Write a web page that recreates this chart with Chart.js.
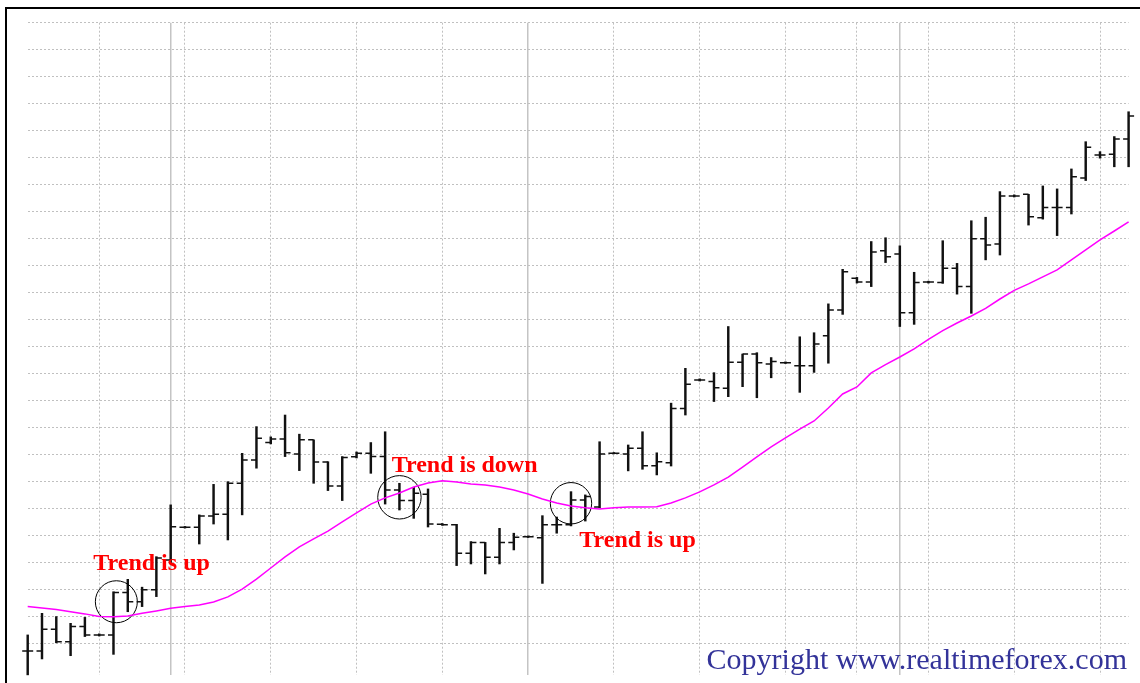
<!DOCTYPE html>
<html>
<head>
<meta charset="utf-8">
<script src="https://cdn.jsdelivr.net/npm/chart.js@4/dist/chart.umd.min.js"></script>
<style>
  html, body { margin: 0; padding: 0; background: #fff; overflow: hidden; }
  #wrap { position: relative; width: 1140px; height: 683px; }
  #frame {
    position: absolute; left: 5px; top: 7px; width: 1135px; height: 676px;
    box-sizing: border-box; border-left: 2px solid #000; border-top: 2px solid #000;
    pointer-events: none;
  }
</style>
</head>
<body>
<div id="wrap">
  <canvas id="myChart"></canvas>
  <div id="frame"></div>
</div>
<script>
// price in pips, one bar per index
var openPrices = [-2.9, -2.9, 5.2, 0.6, 6.2, 3.1, 3.1, 18.8, 15.4, 19.8, 30.9, 43.0, 43.0, 47.2, 47.8, 59.3, 67.9, 74.4, 75.7, 70.2,
  75.4, 67.2, 58.3, 69.1, 70.4, 69.2, 56.8, 52.9, 55.2, 44.1, 43.9, 33.4, 37.4, 31.9, 37.4, 39.5, 39.1, 43.9, 43.9, 53.1,
  50.5, 70.4, 70.2, 72.3, 65.8, 66.9, 87.0, 97.6, 97.0, 94.5, 104.2, 107.2, 103.5, 104.0, 102.9, 102.9, 114.0, 123.5, 135.3, 133.9,
  145.5, 144.3, 122.5, 133.9, 133.7, 139.0, 132.2, 149.9, 148.0, 165.8, 166.4, 157.7, 161.5, 161.5, 172.4, 181.0, 181.2, 186.9];
var highPrices = [3.1, 11.1, 9.9, 7.4, 9.6, 3.5, 19.1, 23.7, 20.8, 32.1, 51.3, 43.3, 47.6, 58.9, 59.9, 70.4, 80.3, 76.5, 84.6, 77.5,
  75.4, 67.3, 69.2, 70.9, 74.4, 78.4, 59.3, 57.8, 57.2, 44.4, 44.1, 37.7, 37.4, 42.6, 40.8, 39.8, 47.3, 46.8, 56.2, 55.0,
  74.7, 70.7, 73.5, 78.4, 70.6, 89.0, 101.9, 98.0, 100.3, 117.4, 107.2, 107.7, 105.9, 104.3, 113.6, 115.1, 125.8, 138.6, 135.6, 148.9,
  150.3, 147.3, 137.5, 134.2, 149.2, 140.8, 156.6, 157.9, 167.4, 166.2, 166.4, 169.5, 168.4, 175.8, 185.9, 182.2, 187.8, 197.0];
var lowPrices = [-11.7, -5.8, 0.0, -4.6, 2.5, 2.7, -4.1, 11.7, 13.6, 17.3, 29.7, 42.7, 36.8, 44.2, 38.3, 47.6, 64.9, 73.9, 69.2, 64.0,
  59.3, 56.6, 52.9, 68.7, 63.0, 51.6, 49.4, 46.3, 43.1, 43.7, 28.8, 29.4, 25.7, 29.4, 34.6, 39.2, 22.2, 40.8, 43.5, 45.3,
  50.2, 70.2, 63.9, 64.5, 62.4, 65.7, 84.6, 97.2, 89.6, 91.4, 95.1, 91.0, 98.4, 103.7, 93.0, 100.4, 103.8, 121.9, 133.5, 132.2,
  141.1, 117.4, 118.2, 133.5, 133.4, 129.4, 122.3, 142.1, 143.9, 165.4, 155.0, 157.2, 151.1, 159.1, 171.5, 179.8, 176.6, 176.6];
var closePrices = [-2.9, 5.2, 0.6, 6.2, 3.1, 3.1, 18.8, 15.4, 19.8, 31.6, 43.2, 43.0, 47.2, 47.8, 59.3, 67.9, 76.0, 75.7, 70.6, 75.4,
  67.2, 58.3, 68.9, 70.4, 69.2, 56.8, 52.9, 55.6, 44.2, 43.9, 33.4, 37.4, 31.9, 37.4, 39.3, 39.5, 43.9, 43.9, 53.1, 54.4,
  70.2, 70.4, 72.3, 65.8, 67.3, 87.0, 96.0, 97.6, 94.7, 104.2, 107.2, 104.0, 104.4, 104.0, 102.9, 110.9, 123.5, 137.7, 133.9, 145.0,
  143.3, 122.5, 133.7, 133.9, 139.0, 132.2, 149.9, 147.6, 165.8, 165.8, 158.1, 161.5, 161.5, 172.9, 183.8, 181.0, 186.9, 195.4];
// moving average
var maValues = [13.6, 13.1, 12.5, 11.7, 10.9, 9.9, 9.8, 10.1, 11.1, 12.0, 13.0, 13.6, 14.2, 15.3, 17.2, 20.1, 23.8, 27.9, 32.0, 35.7,
  38.7, 41.6, 45.0, 48.3, 51.6, 53.9, 55.7, 57.9, 59.4, 60.2, 59.8, 59.0, 58.7, 57.9, 56.8, 55.3, 53.5, 52.0, 50.9, 50.2,
  49.8, 50.2, 50.5, 50.5, 50.6, 52.0, 53.9, 56.1, 58.7, 61.6, 65.3, 69.1, 72.8, 76.1, 79.4, 82.4, 87.2, 92.4, 95.0, 100.2,
  103.3, 106.1, 109.1, 112.6, 115.9, 118.7, 121.3, 124.1, 127.6, 130.8, 133.2, 135.8, 138.4, 142.1, 145.8, 149.5, 152.8, 156.2];

var yTicks = [0, 10, 20, 30, 40, 50, 60, 70, 80, 90, 100, 110, 120, 130, 140, 150, 160, 170, 180, 190, 200, 210, 220, 230];
var dottedBars = [5, 11, 17, 23, 29, 41, 47, 53, 58, 63, 69, 75];
var solidBars = [10, 35, 61];

var circleX = [6.2, 26.0, 38.0];
var circleY = [15.4, 54.1, 51.9];
var circleR = [21, 21.7, 20.7];

var noteText = ["Trend is up", "Trend is down", "Trend is up"];
var noteX = [4.59, 25.46, 38.58];
var noteY = [27.2, 63.6, 35.8];
var copyrightText = "Copyright www.realtimeforex.com";

var ohlcTicks = {
  id: "ohlcTicks",
  afterDatasetsDraw: function (chart) {
    var ctx = chart.ctx;
    var x = chart.scales.x;
    var y = chart.scales.y;
    ctx.save();
    ctx.strokeStyle = "#111";
    ctx.lineWidth = 1.5;
    ctx.beginPath();
    for (var i = 0; i < openPrices.length; i++) {
      var px = x.getPixelForValue(i);
      var yo = y.getPixelForValue(openPrices[i]);
      var yc = y.getPixelForValue(closePrices[i]);
      ctx.moveTo(px - 5.5, yo);
      ctx.lineTo(px, yo);
      ctx.moveTo(px, yc);
      ctx.lineTo(px + 5.5, yc);
    }
    ctx.stroke();
    ctx.restore();
  },
  afterDraw: function (chart) {
    var ctx = chart.ctx;
    var x = chart.scales.x;
    var y = chart.scales.y;
    ctx.save();
    ctx.textBaseline = "alphabetic";
    ctx.textAlign = "left";
    ctx.fillStyle = "#ff0000";
    ctx.font = 'bold 24px "Liberation Serif"';
    for (var i = 0; i < noteText.length; i++) {
      ctx.fillText(noteText[i], x.getPixelForValue(noteX[i]), y.getPixelForValue(noteY[i]));
    }
    ctx.fillStyle = "#333399";
    ctx.font = '30px "Liberation Serif"';
    ctx.textAlign = "right";
    ctx.fillText(copyrightText, 1127, 669);
    ctx.restore();
  },
};

var barData = [];
var maData = [];
for (var i = 0; i < openPrices.length; i++) {
  barData.push({ x: i, y: [lowPrices[i], highPrices[i]] });
  maData.push({ x: i, y: maValues[i] });
}
var circleData = [];
for (var j = 0; j < circleX.length; j++) circleData.push({ x: circleX[j], y: circleY[j] });

function setTicks(values) {
  return function (scale) {
    scale.ticks = values.map(function (v) { return { value: v }; });
  };
}

var ctx = document.getElementById("myChart").getContext("2d");
var myChart = new Chart(ctx, {
  type: "bar",
  data: {
    datasets: [
      {
        type: "line",
        label: "MA",
        data: maData,
        borderColor: "#ff00ff",
        borderWidth: 1.5,
        pointRadius: 0,
        fill: false,
        clip: false,
        order: 0,
      },
      {
        type: "scatter",
        label: "circles",
        data: circleData,
        pointRadius: circleR,
        pointBorderColor: "#000",
        pointBackgroundColor: "rgba(0,0,0,0)",
        pointBorderWidth: 1,
        clip: false,
        order: 0,
      },
      {
        type: "bar",
        label: "bars",
        data: barData,
        backgroundColor: "#111",
        barThickness: 1.8,
        borderWidth: 0,
        clip: false,
        order: 1,
      },
    ],
  },
  options: {
    responsive: true,
    maintainAspectRatio: false,
    animation: false,
    events: [],
    layout: { autoPadding: false, padding: { left: 27.7, right: 11.4, top: 22.7, bottom: 8 } },
    plugins: { legend: { display: false }, tooltip: { enabled: false }, title: { display: false } },
    scales: {
      x: {
        type: "linear", min: 0, max: 77, position: "bottom", offset: false,
        afterBuildTicks: setTicks(dottedBars),
        ticks: { display: false },
        border: { display: false, dash: [2, 2] },
        grid: { color: "#c0c0c0", lineWidth: 1, drawTicks: false, offset: false },
      },
      xs: {
        type: "linear", min: 0, max: 77, position: "bottom", offset: false,
        afterBuildTicks: setTicks(solidBars),
        ticks: { display: false },
        border: { display: false },
        grid: { color: "#c4c4c4", lineWidth: 1.5, drawTicks: false, offset: false },
      },
      y: {
        type: "linear", min: -11.75, max: 230,
        afterBuildTicks: setTicks(yTicks),
        ticks: { display: false },
        border: { display: false, dash: [2, 2] },
        grid: { color: "#c0c0c0", lineWidth: 1, drawTicks: false },
      },
    },
  },
  plugins: [ohlcTicks],
});
</script>
</body>
</html>
